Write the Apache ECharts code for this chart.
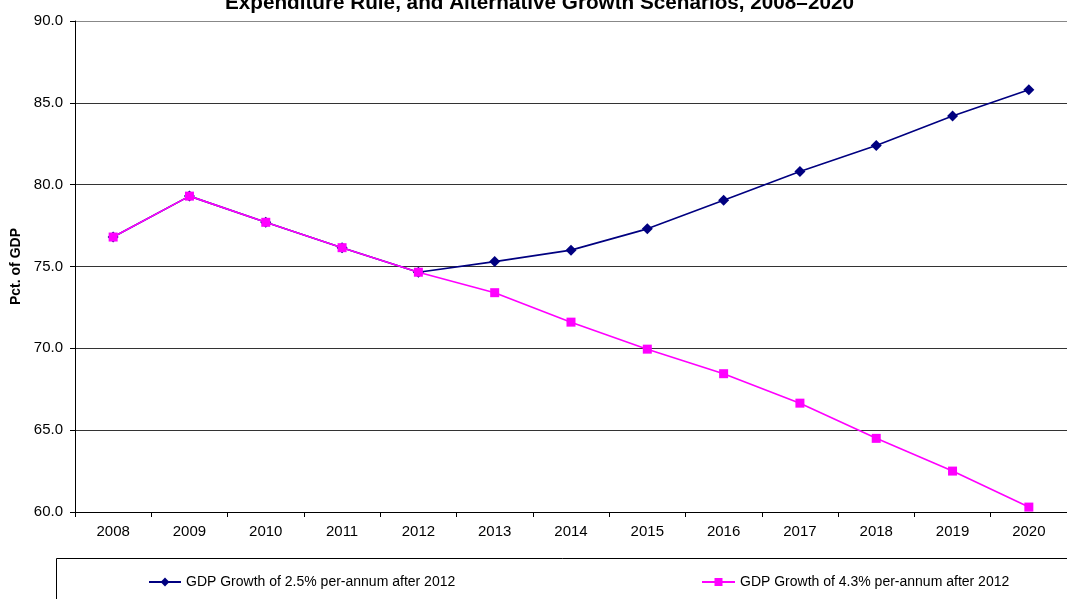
<!DOCTYPE html>
<html>
<head>
<meta charset="utf-8">
<script src="https://cdn.jsdelivr.net/npm/echarts@6/dist/echarts.min.js"></script>
<style>
  html, body { margin: 0; padding: 0; background: #fff; }
  #chart { width: 1067px; height: 599px; }
</style>
</head>
<body>
<div id="chart"></div>
<script>
// Debt ratio projections, percent of GDP
const years = ['2008', '2009', '2010', '2011', '2012', '2013', '2014', '2015', '2016', '2017', '2018', '2019', '2020'];
const growthLow = [76.8, 79.3, 77.7, 76.15, 74.65, 75.3, 76.0, 77.3, 79.05, 80.8, 82.4, 84.2, 85.8];
const growthHigh = [76.8, 79.3, 77.7, 76.15, 74.65, 73.4, 71.6, 69.95, 68.45, 66.65, 64.5, 62.5, 60.3];
const seriesNames = ['GDP Growth of 2.5% per-annum after 2012', 'GDP Growth of 4.3% per-annum after 2012'];
const titleText = 'Expenditure Rule, and Alternative Growth Scenarios, 2008\u20132020';
const yAxisTitle = 'Pct. of GDP';

const font = 'Arial, "Liberation Sans", sans-serif';
const chart = echarts.init(document.getElementById('chart'), null, { renderer: 'canvas' });

chart.setOption({
  animation: false,
  backgroundColor: '#fff',
  textStyle: { fontFamily: font },
  title: {
    text: titleText,
    left: 225,
    top: -7,
    padding: 0,
    textStyle: { fontFamily: font, fontSize: 20.7, fontWeight: 'bold', color: '#000' }
  },
  grid: { left: 75, top: 21, right: -10, bottom: 87 },
  legend: [
    {
      data: [seriesNames[0]],
      left: 148, top: 575, padding: 0,
      itemWidth: 32, itemHeight: 11, itemGap: 0,
      textStyle: { fontFamily: font, fontSize: 14, color: '#000' }
    },
    {
      data: [seriesNames[1]],
      left: 701, top: 575, padding: 0,
      itemWidth: 33, itemHeight: 10, itemGap: 0,
      textStyle: { fontFamily: font, fontSize: 14, color: '#000' }
    }
  ],
  xAxis: {
    type: 'category',
    data: years,
    boundaryGap: true,
    axisLine: { lineStyle: { color: '#000', width: 1 } },
    axisTick: { show: true, length: 5, lineStyle: { color: '#000' } },
    axisLabel: { fontFamily: font, fontSize: 15, color: '#000', margin: 12 },
    splitLine: { show: false }
  },
  yAxis: {
    type: 'value',
    min: 60, max: 90, interval: 5,
    name: yAxisTitle,
    nameLocation: 'middle',
    nameGap: 45,
    nameTextStyle: { fontFamily: font, fontSize: 14, fontWeight: 'bold', color: '#000' },
    axisLine: { show: true, lineStyle: { color: '#000', width: 1 } },
    axisTick: { show: true, length: 5, lineStyle: { color: '#000' } },
    axisLabel: {
      fontFamily: font, fontSize: 15, color: '#000', margin: 12,
      formatter: v => v.toFixed(1)
    },
    splitLine: {
      show: true,
      lineStyle: { color: ['#000', '#333', '#333', '#333', '#333', '#333', '#888'], width: 1 }
    }
  },
  series: [
    {
      name: seriesNames[0],
      type: 'line',
      data: growthLow,
      symbol: 'diamond',
      symbolSize: 11,
      showAllSymbol: true,
      lineStyle: { color: '#000080', width: 1.6 },
      itemStyle: { color: '#000080' },
      z: 2
    },
    {
      name: seriesNames[1],
      type: 'line',
      data: growthHigh,
      symbol: 'rect',
      symbolSize: 9,
      showAllSymbol: true,
      lineStyle: { color: '#ff00ff', width: 1.6 },
      itemStyle: { color: '#ff00ff' },
      z: 3
    }
  ],
  graphic: [
    {
      type: 'rect',
      shape: { x: 56.5, y: 558.5, width: 1040, height: 80 },
      style: { fill: 'none', stroke: '#000', lineWidth: 1 },
      silent: true,
      z: -1
    }
  ]
});
</script>
</body>
</html>
